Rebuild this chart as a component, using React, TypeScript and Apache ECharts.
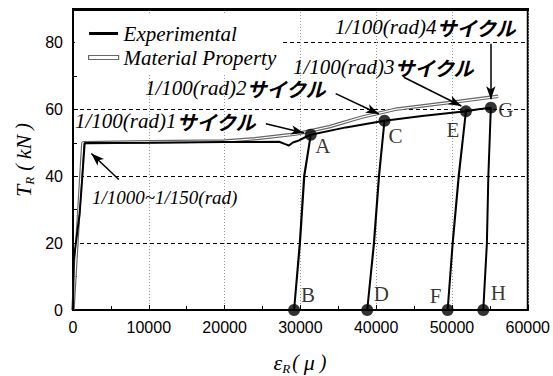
import React, { useEffect, useRef } from "react";
import * as echarts from "echarts";

// ---- data (strain in micro, load in kN) ----
const experimental: [number, number][] = [
  [0, 0], [100, 15], [880, 29], [1230, 39.8], [1540, 49.9],
  [10000, 50.0], [20000, 50.2], [27200, 50.3], [28000, 49.6], [28500, 49.2],
  [29000, 50.1], [29800, 50.7], [30500, 51.5], [31370, 52.4],
  [30490, 40], [29920, 20], [29170, 0],
  [29950, 20], [30520, 40], [31370, 52.4],
  [36000, 54.6], [41100, 56.6],
  [40360, 40], [39700, 20], [38820, 0],
  [39720, 20], [40380, 40], [41100, 56.6],
  [46050, 58.0], [51840, 59.4],
  [50880, 40], [50090, 20], [49430, 0],
  [50100, 20], [50900, 40], [51840, 59.4],
  [53500, 60.0], [55130, 60.5],
  [54800, 40], [54610, 20], [54130, 0],
];

const materialProperty: [number, number][] = [
  [0, 0], [250, 10], [1300, 50], [10000, 50.3], [20000, 50.5], [24000, 51.2],
  [29400, 52.6], [33800, 54.8], [38000, 57.6], [42500, 60.0], [46000, 61.0],
  [51000, 62.4], [56100, 63.9],
];

const pointNames = ["A", "B", "C", "D", "E", "F", "G", "H"];
const pointStrain = [31370, 29170, 41100, 38820, 51840, 49430, 55130, 54130];
const pointLoad = [52.4, 0, 56.6, 0, 59.4, 0, 60.5, 0];

const xTicks = [0, 10000, 20000, 30000, 40000, 50000, 60000];
const yTicks = [0, 20, 40, 60, 80];

// annotation arrows (data coordinates): from -> to
const arrowFrom: [number, number][] = [
  [25450, 55.7], [34660, 64.7], [43640, 69.6], [55130, 79.6], [6050, 39.0],
];
const arrowTo: [number, number][] = [
  [30490, 52.9], [40360, 58.6], [51240, 61.0], [55130, 63.0], [2420, 46.8],
];

// ---- styles ----
const serif = "'Liberation Serif', 'Times New Roman', serif";
const cjk = "'Noto Sans CJK JP', sans-serif";
const sans = "'Liberation Sans', Arial, sans-serif";

const labelOffsets: Record<string, [number, number]> = {
  A: [12, 11], B: [14, -15], C: [11, 15], D: [14, -16],
  E: [-13, 19], F: [-12, -14], G: [15, 2], H: [15, -17],
};

const cycleRich = {
  a: { fontFamily: serif, fontStyle: "italic", fontSize: 21, fill: "#000" },
  b: { fontFamily: cjk, fontStyle: "italic", fontWeight: "bold", fontSize: 20, fill: "#000" },
};

function cycleText(n: string, x: number, y: number) {
  return {
    type: "text",
    x,
    y,
    z: 20,
    style: {
      text: `{a|1/100(rad)${n}}{b|サイクル}`,
      rich: cycleRich,
      verticalAlign: "middle",
      align: "left",
    },
  };
}

export default function App() {
  const ref = useRef<HTMLDivElement>(null);

  useEffect(() => {
    if (!ref.current) return;
    const chart = echarts.init(ref.current, undefined, { renderer: "svg" });

    const option: any = {
      animation: false,
      backgroundColor: "#fff",
      grid: {
        left: 73, right: 25, top: 9, bottom: 66,
        show: true, borderColor: "#000", borderWidth: 2,
        backgroundColor: "transparent",
      },
      xAxis: {
        type: "value",
        min: xTicks[0],
        max: xTicks[xTicks.length - 1],
        interval: 10000,
        axisLine: { show: true, onZero: false, lineStyle: { color: "#000", width: 2 } },
        axisTick: { show: true, inside: true, length: 5, lineStyle: { color: "#000", width: 1 } },
        minorTick: { show: true, splitNumber: 2, length: 4, lineStyle: { color: "#000" } },
        axisLabel: {
          color: "#000", fontFamily: sans, fontSize: 16, margin: 9,
          formatter: (v: number) => String(v),
        },
        splitLine: { show: true, lineStyle: { color: "#999", type: [1, 2], width: 1 } },
      },
      yAxis: {
        type: "value",
        min: 0,
        max: 90,
        interval: 20,
        axisLine: { show: true, onZero: false, lineStyle: { color: "#000", width: 2 } },
        axisTick: { show: true, inside: true, length: 5, lineStyle: { color: "#000", width: 1 } },
        minorTick: { show: true, splitNumber: 2, length: 4, lineStyle: { color: "#000" } },
        axisLabel: {
          color: "#000", fontFamily: sans, fontSize: 16, margin: 10,
          showMaxLabel: false,
          formatter: (v: number) => (yTicks.includes(v) ? String(v) : ""),
        },
        splitLine: { show: true, lineStyle: { color: "#000", type: [4, 3], width: 1 } },
      },
      legend: {
        orient: "vertical",
        left: 83,
        top: 18,
        itemWidth: 30,
        itemHeight: 4,
        itemGap: 3,
        z: 10,
        textStyle: { fontFamily: serif, fontStyle: "italic", fontSize: 21, color: "#000" },
        data: [
          {
            name: "Experimental",
            icon: "rect",
            itemStyle: { color: "#000", borderColor: "#fff", borderWidth: 1 },
          },
          {
            name: "Material Property",
            icon: "rect",
            itemStyle: { color: "#fff", borderColor: "#666", borderWidth: 1.2 },
          },
        ],
      },
      series: [
        {
          name: "Material Property",
          type: "line",
          data: materialProperty,
          showSymbol: false,
          symbol: "none",
          lineStyle: { color: "#666", width: 3.5 },
          z: 2,
        },
        {
          name: "mp-core",
          type: "line",
          data: materialProperty,
          showSymbol: false,
          symbol: "none",
          silent: true,
          lineStyle: { color: "#fff", width: 1.2 },
          z: 3,
        },
        {
          name: "Experimental",
          type: "line",
          data: experimental,
          showSymbol: false,
          symbol: "none",
          lineStyle: { color: "#000", width: 2 },
          z: 4,
          markLine: {
            silent: true,
            animation: false,
            symbol: ["none", "arrow"],
            symbolSize: [7, 13],
            lineStyle: { color: "#000", width: 1.5, type: "solid" },
            label: { show: false },
            data: arrowFrom.map((f, i) => [{ coord: f }, { coord: arrowTo[i] }]),
          },
        },
        {
          name: "points",
          type: "scatter",
          symbolSize: 12,
          itemStyle: { color: "#000" },
          z: 6,
          data: pointNames.map((n, i) => ({
            name: n,
            value: [pointStrain[i], pointLoad[i]],
            label: {
              show: true,
              position: "inside",
              offset: labelOffsets[n],
              formatter: "{b}",
              color: "#000",
              fontFamily: serif,
              fontSize: 21,
            },
          })),
        },
      ],
      graphic: [
        { type: "rect", z: 3, shape: { x: 75, y: 15, width: 208, height: 58 }, style: { fill: "#fff" } },
        { type: "line", z: 8, shape: { x1: 73, y1: 9.5, x2: 529, y2: 9.5 }, style: { stroke: "#000", lineWidth: 3 } },
        cycleText("1", 75, 121),
        cycleText("2", 145, 88),
        cycleText("3", 293, 67),
        cycleText("4", 335, 27),
        {
          type: "text",
          x: 92,
          y: 197,
          z: 20,
          style: {
            text: "1/1000~1/150(rad)",
            fontFamily: serif,
            fontStyle: "italic",
            fontSize: 19,
            fill: "#000",
            verticalAlign: "middle",
          },
        },
        {
          type: "text",
          x: 23,
          y: 160,
          rotation: Math.PI / 2,
          z: 20,
          style: {
            text: "{i|T}{s|R}{n| ( }{i|kN}{n| )}",
            align: "center",
            verticalAlign: "middle",
            rich: {
              i: { fontFamily: serif, fontStyle: "italic", fontSize: 22, fill: "#000" },
              s: { fontFamily: serif, fontStyle: "italic", fontSize: 13, fill: "#000", padding: [12, 1, 0, 0] },
              n: { fontFamily: serif, fontStyle: "italic", fontSize: 20, fill: "#000" },
            },
          },
        },
        {
          type: "text",
          x: 300,
          y: 362,
          z: 20,
          style: {
            text: "{i|ε}{s|R}{n|( }{i|μ}{n| )}",
            align: "center",
            verticalAlign: "middle",
            rich: {
              i: { fontFamily: serif, fontStyle: "italic", fontSize: 22, fill: "#000" },
              s: { fontFamily: serif, fontStyle: "italic", fontSize: 13, fill: "#000", padding: [12, 2, 0, 0] },
              n: { fontFamily: serif, fontStyle: "italic", fontSize: 20, fill: "#000" },
            },
          },
        },
      ],
    };

    chart.setOption(option);
    return () => chart.dispose();
  }, []);

  return (
    <div
      ref={ref}
      style={{ position: "absolute", left: 0, top: 0, width: 553, height: 376 }}
    />
  );
}
